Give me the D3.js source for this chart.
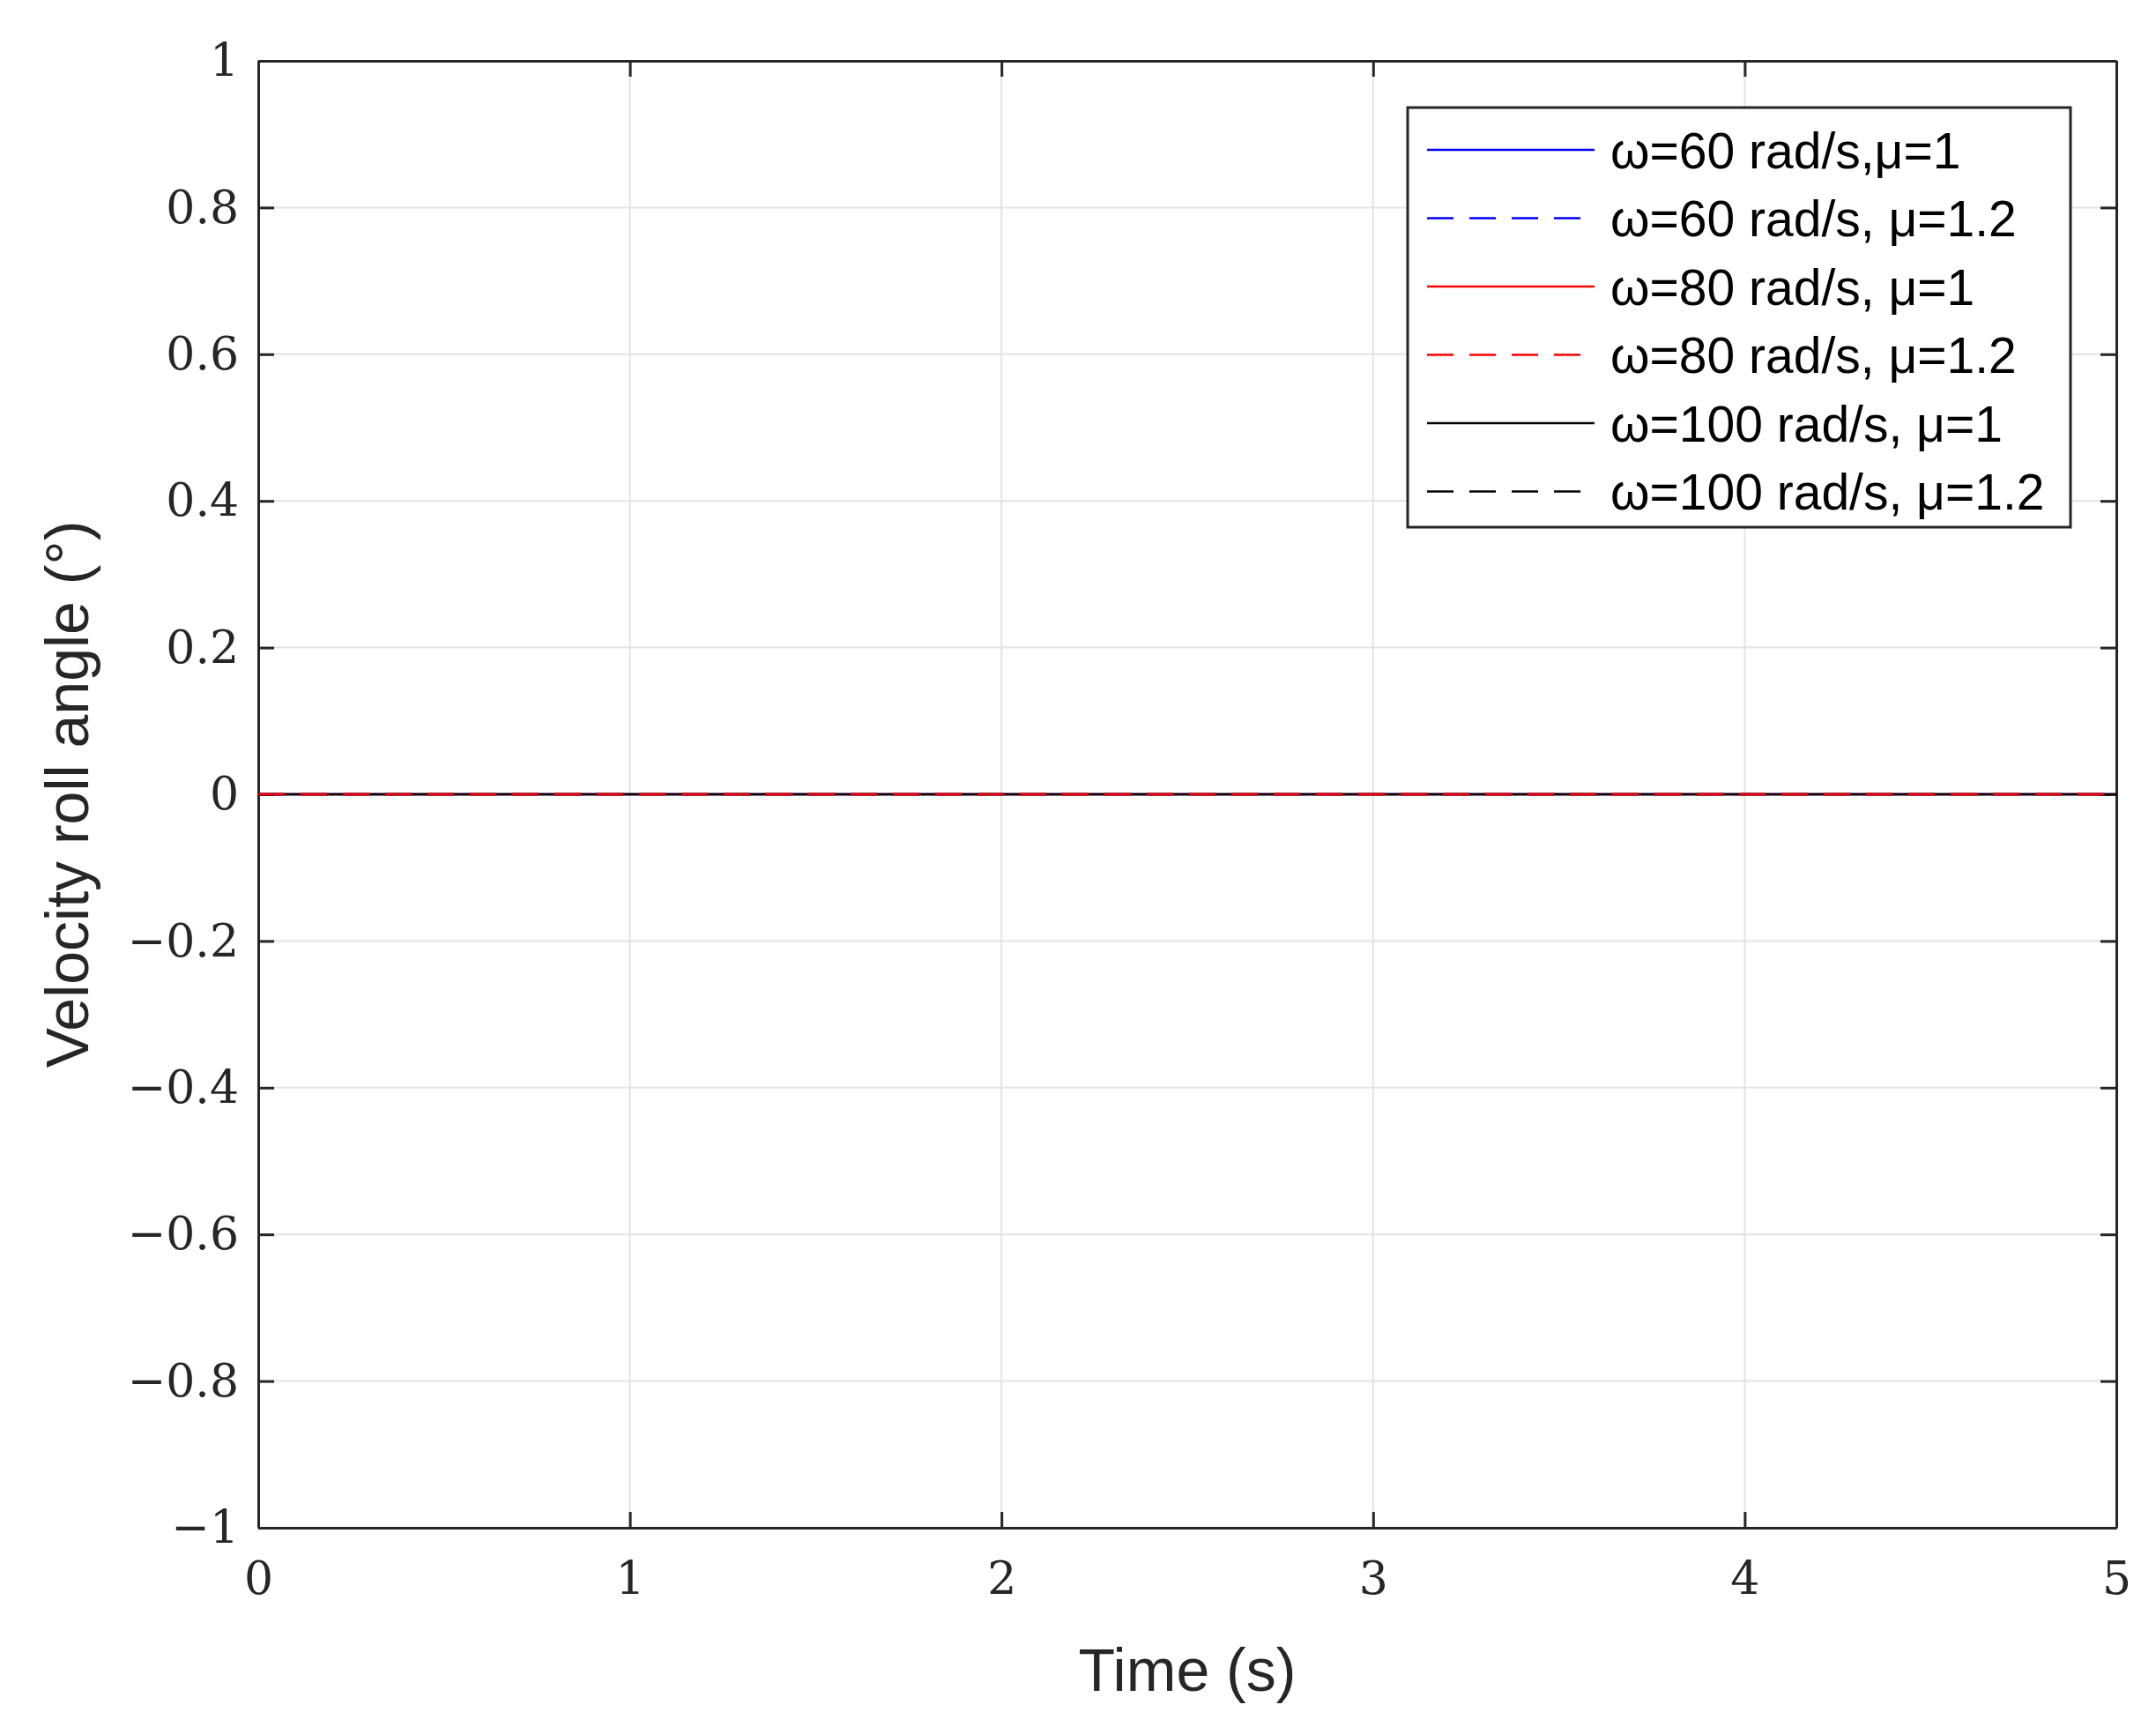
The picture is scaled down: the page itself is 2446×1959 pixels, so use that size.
<!DOCTYPE html>
<html>
<head>
<meta charset="utf-8">
<script src="https://cdn.jsdelivr.net/npm/d3@7"></script>
<style>
body { margin: 0; background: #fff; }
</style>
</head>
<body>
<svg id="chart" width="2446" height="1959"></svg>
<script>
// time samples (s) and roll angle values (deg) per case
const time = [0, 1, 2, 3, 4, 5];
const seriesNames = ['ω=60 rad/s,μ=1', 'ω=60 rad/s, μ=1.2', 'ω=80 rad/s, μ=1', 'ω=80 rad/s, μ=1.2', 'ω=100 rad/s, μ=1', 'ω=100 rad/s, μ=1.2'];
const w60mu1 = [0, 0, 0, 0, 0, 0];
const w60mu12 = [0, 0, 0, 0, 0, 0];
const w80mu1 = [0, 0, 0, 0, 0, 0];
const w80mu12 = [0, 0, 0, 0, 0, 0];
const w100mu1 = [0, 0, 0, 0, 0, 0];
const w100mu12 = [0, 0, 0, 0, 0, 0];
const xTicks = [0, 1, 2, 3, 4, 5];
const yTicks = [-1, -0.8, -0.6, -0.4, -0.2, 0, 0.2, 0.4, 0.6, 0.8, 1];

const dash = '30,18';
const styles = [
	{ color: '#0000ff', dash: null },
	{ color: '#0000ff', dash: dash },
	{ color: '#ff0000', dash: null },
	{ color: '#000000', dash: null },
	{ color: '#000000', dash: dash },
	{ color: '#ff0000', dash: dash }
];
const values = [w60mu1, w60mu12, w80mu1, w100mu1, w100mu12, w80mu12];
const legendStyles = [styles[0], styles[1], styles[2], styles[5], styles[3], styles[4]];

const margin = { top: 69, right: 45, bottom: 226, left: 293 };
const width = 2446, height = 1959;
const chartW = width - margin.left - margin.right;
const chartH = height - margin.top - margin.bottom;

const svg = d3.select('#chart');
const g = svg.append('g').attr('transform', `translate(${margin.left},${margin.top})`);

const x = d3.scaleLinear().domain([0, 5]).range([0, chartW]);
const y = d3.scaleLinear().domain([-1, 1]).range([chartH, 0]);

// grid
g.append('g').selectAll('line').data(xTicks).join('line')
	.attr('x1', d => x(d)).attr('x2', d => x(d)).attr('y1', 0).attr('y2', chartH)
	.attr('stroke', '#e3e3e3').attr('stroke-width', 2);
g.append('g').selectAll('line').data(yTicks).join('line')
	.attr('y1', d => y(d)).attr('y2', d => y(d)).attr('x1', 0).attr('x2', chartW)
	.attr('stroke', '#e3e3e3').attr('stroke-width', 2);

const fmt = d => d < 0 ? '\u2212' + Math.abs(d) : String(d);

const xAxis = g.append('g').attr('transform', `translate(0,${chartH})`)
	.call(d3.axisBottom(x).tickValues(xTicks).tickFormat(fmt).tickSizeInner(-18).tickSizeOuter(0).tickPadding(28));
g.append('g')
	.call(d3.axisLeft(y).tickValues(yTicks).tickFormat(fmt).tickSizeInner(-18).tickSizeOuter(0).tickPadding(22));
g.append('g').attr('transform', `translate(${chartW},0)`)
	.call(d3.axisRight(y).tickValues(yTicks).tickFormat('').tickSizeInner(-18).tickSizeOuter(0));
g.append('g')
	.call(d3.axisTop(x).tickValues(xTicks).tickFormat('').tickSizeInner(-18).tickSizeOuter(0));
g.selectAll('.domain').attr('stroke', '#262626').attr('stroke-width', 3);
g.selectAll('.tick line').attr('stroke', '#262626').attr('stroke-width', 3);
g.selectAll('.tick text').attr('font-family', '"DejaVu Serif", "Liberation Serif", serif')
	.attr('font-size', 52).attr('fill', '#262626');
xAxis.selectAll('.tick text').attr('dy', '0.9em');

// series
const line = d3.line().x((d, i) => x(time[i])).y(d => y(d));
values.forEach((v, i) => {
	g.append('path').attr('d', line(v)).attr('fill', 'none')
		.attr('stroke', styles[i].color).attr('stroke-width', 2.5)
		.attr('stroke-dasharray', styles[i].dash);
});

// axis labels
svg.append('text').attr('x', margin.left + chartW / 2).attr('y', 1918)
	.attr('text-anchor', 'middle').attr('font-family', 'Arial, "Liberation Sans", sans-serif')
	.attr('font-size', 68).attr('fill', '#262626').text('Time (s)');
svg.append('text').attr('transform', `translate(100,${margin.top + chartH / 2}) rotate(-90)`)
	.attr('text-anchor', 'middle').attr('font-family', 'Arial, "Liberation Sans", sans-serif')
	.attr('font-size', 68).attr('fill', '#262626').text('Velocity roll angle (°)');

// legend
const lg = svg.append('g').attr('transform', 'translate(1597,122)');
lg.append('rect').attr('width', 752).attr('height', 476)
	.attr('fill', '#fff').attr('stroke', '#262626').attr('stroke-width', 3);
seriesNames.forEach((name, i) => {
	const yy = 48 + i * 77.5;
	lg.append('line').attr('x1', 22).attr('x2', 212).attr('y1', yy).attr('y2', yy)
		.attr('stroke', legendStyles[i].color).attr('stroke-width', 2.5)
		.attr('stroke-dasharray', legendStyles[i].dash);
	lg.append('text').attr('x', 230).attr('y', yy).attr('dy', '0.36em')
		.attr('font-family', 'Arial, "Liberation Sans", sans-serif')
		.attr('font-size', 57).attr('fill', '#000').text(name);
});
</script>
</body>
</html>
